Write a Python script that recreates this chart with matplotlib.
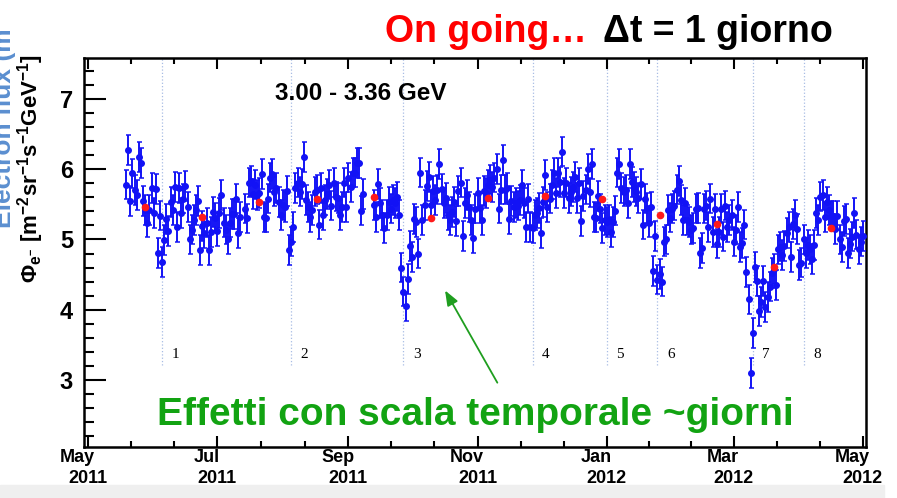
import numpy as np
import matplotlib.pyplot as plt
import matplotlib.dates as mdates
from matplotlib.patches import Rectangle
from matplotlib.transforms import blended_transform_factory

plt.rcParams['font.family'] = ['Liberation Sans', 'DejaVu Sans']
plt.rcParams['mathtext.fontset'] = 'custom'
plt.rcParams['mathtext.rm'] = 'Liberation Sans:bold'
plt.rcParams['mathtext.it'] = 'Liberation Sans:bold'
plt.rcParams['mathtext.bf'] = 'Liberation Sans:bold'

# daily electron flux (3.00 - 3.36 GeV) in six chunks
chunk_start = ['2011-05-19', '2011-07-14', '2011-09-13',
               '2011-11-10', '2012-01-09', '2012-03-03']
flux_1 = [5.78, 6.27, 5.55, 5.94, 5.70, 5.63, 6.17, 6.09, 5.55, 5.42, 5.24, 5.42, 5.73, 5.38,
          5.72, 4.81, 5.34, 4.68, 4.99, 5.29, 5.12, 5.53, 5.42, 5.75, 5.18, 5.73, 5.38, 5.58,
          5.76, 5.46, 5.00, 5.14, 5.28, 5.42, 5.55, 4.85, 5.19, 5.09, 5.24, 4.85, 5.11, 5.39,
          5.31, 5.12, 5.38, 5.63, 5.24, 5.14, 5.00, 5.24, 5.36, 5.36, 5.58, 5.09, 5.32]
flux_2 = [5.44, 5.30, 5.81, 5.83, 5.65, 5.78, 5.63, 5.66, 5.93, 5.32, 5.31, 5.58, 5.88, 5.93,
          5.68, 5.73, 5.53, 5.35, 5.49, 5.46, 5.69, 4.85, 4.97, 5.18, 5.73, 5.81, 5.68, 5.79,
          6.17, 5.56, 5.46, 5.32, 5.42, 5.68, 5.71, 5.21, 5.73, 5.35, 5.56, 5.65, 5.78, 5.48,
          5.81, 5.61, 5.59, 5.35, 5.46, 5.81, 5.46, 5.88, 5.75, 5.95, 5.95, 6.09, 6.09, 5.41,
          5.65]
flux_3 = [5.49, 5.32, 5.79, 5.52, 5.35, 5.16, 5.35, 5.53, 5.44, 5.56, 5.52, 5.61, 5.35, 4.60,
          4.26, 4.05, 4.44, 4.91, 4.75, 5.29, 5.25, 4.80, 5.95, 5.28, 5.49, 5.76, 5.89, 5.49,
          5.69, 5.56, 5.71, 6.07, 5.72, 5.52, 5.59, 5.35, 5.28, 5.39, 5.53, 5.26, 5.69, 5.81,
          5.05, 5.52, 5.63, 5.46, 5.28, 5.02, 5.44, 5.66, 5.45, 5.28, 5.69, 5.66, 5.78, 5.85,
          5.75, 5.88]
flux_4 = [6.00, 5.44, 5.71, 6.13, 5.71, 5.73, 5.29, 5.55, 5.46, 5.52, 5.48, 5.56, 5.78, 5.52,
          5.18, 5.58, 5.18, 5.16, 5.35, 5.38, 5.45, 5.09, 5.53, 5.92, 5.46, 5.58, 5.78, 5.95,
          5.66, 5.95, 5.82, 6.25, 5.66, 5.81, 5.59, 5.68, 5.75, 5.89, 5.59, 5.81, 5.26, 5.62,
          5.71, 6.00, 5.67, 6.07, 5.32, 5.31, 5.62, 5.44, 5.16, 5.28, 5.25, 5.28, 5.11, 5.25,
          5.41, 5.95, 6.07, 5.73]
flux_5 = [5.68, 5.71, 5.52, 6.07, 5.82, 5.75, 5.68, 5.59, 5.79, 5.21, 5.58, 5.45, 5.24, 5.46,
          4.55, 5.05, 4.43, 4.51, 4.40, 4.97, 5.00, 5.42, 5.31, 5.44, 5.48, 5.71, 5.83, 5.56,
          5.28, 5.52, 5.28, 5.25, 5.14, 5.16, 5.44, 5.45, 4.81, 4.88, 5.44, 5.48, 5.18, 5.58,
          5.11, 5.44, 4.94, 5.11, 5.44, 5.04, 5.48, 5.18, 5.28, 5.35, 4.97, 5.14]
flux_6 = [5.46, 4.89, 4.95, 5.21, 4.54, 4.15, 3.10, 3.67, 4.61, 4.41, 3.98, 4.11, 4.41, 4.04,
          4.18, 4.33, 4.52, 4.58, 4.35, 4.86, 4.90, 4.78, 4.91, 5.09, 5.18, 4.75, 5.22, 5.35,
          5.15, 4.64, 4.67, 5.00, 4.81, 4.92, 4.86, 4.72, 4.92, 5.38, 5.28, 5.61, 5.63, 5.32,
          5.53, 5.42, 5.34, 5.34, 5.15, 5.34, 5.00, 4.89, 5.26, 5.29, 4.81, 4.94, 5.04, 5.38,
          5.07, 4.86, 4.97, 5.05]
flux_err = 0.21

# Bartels rotation averages (red)
bartels_day = ['2011-05-28', '2011-06-24', '2011-07-21', '2011-08-17', '2011-09-13',
               '2011-10-10', '2011-11-06', '2011-12-03', '2011-12-30', '2012-01-26',
               '2012-02-22', '2012-03-20', '2012-04-16']
bartels_flux = [5.46, 5.32, 5.53, 5.58, 5.61, 5.31, 5.59, 5.62, 5.58, 5.35, 5.22, 4.61, 5.17]

# marked events
event_day = ['2011-06-05', '2011-08-05', '2011-09-27', '2011-11-27',
             '2012-01-01', '2012-01-25', '2012-03-10', '2012-04-03']
event_label = ['1', '2', '3', '4', '5', '6', '7', '8']

month_ticks = ['2011-05-01', '2011-07-01', '2011-09-01', '2011-11-01',
               '2012-01-01', '2012-03-01', '2012-05-01']
month_name = ['May', 'Jul', 'Sep', 'Nov', 'Jan', 'Mar', 'May']
year_name = ['2011', '2011', '2011', '2011', '2012', '2012', '2012']

days = []
flux = []
for start, seg in zip(chunk_start, [flux_1, flux_2, flux_3, flux_4, flux_5, flux_6]):
    days.append(np.datetime64(start) + np.arange(len(seg)))
    flux.extend(seg)
days = mdates.date2num(np.concatenate(days))

fig = plt.figure(figsize=(8.97, 4.98), dpi=100)
ax = fig.add_axes([84 / 897, 51 / 498, 782 / 897, 389 / 498])

ax.errorbar(days, flux, yerr=flux_err, fmt='o', color='#1212f5', ms=4,
            elinewidth=1.4, capsize=1.8, capthick=1.1, zorder=3)
ax.plot(mdates.date2num(np.array(bartels_day, dtype='datetime64[D]')), bartels_flux,
        'o', color='#ff1a1a', ms=4.5, zorder=5)

ev = mdates.date2num(np.array(event_day, dtype='datetime64[D]'))
ax.vlines(ev, 3.22, 7.6, colors='#a8bce4', linestyles=':', lw=0.9, zorder=1)
for x, lab in zip(ev, event_label):
    ax.text(x + 4.5, 3.36, lab, fontsize=11, family='Liberation Serif', ha='left', va='center')

t0 = mdates.date2num(np.datetime64('2011-05-01'))
t1 = mdates.date2num(np.datetime64('2012-05-01'))
ax.set_xlim(t0 - 1.9, t1 + 1.5)
ax.set_ylim(2.05, 7.58)

major = mdates.date2num(np.array(month_ticks, dtype='datetime64[D]'))
minor = []
for a, b in zip(major[:-1], major[1:]):
    minor += [a + (b - a) / 3, a + 2 * (b - a) / 3]
ax.set_xticks(major)
ax.set_xticks(minor, minor=True)
ax.set_xticklabels(year_name, fontsize=13, fontweight='bold')
trans = blended_transform_factory(ax.transData, ax.transAxes)
for x, m in zip(major, month_name):
    ax.text(x - 5, -0.004, m, transform=trans, ha='center', va='top',
            fontsize=13, fontweight='bold')

ax.set_yticks([3, 4, 5, 6, 7])
ax.set_yticks(np.arange(2.2, 7.6, 0.2), minor=True)
ax.set_yticklabels(['3', '4', '5', '6', '7'], fontsize=17, fontweight='bold')

ax.tick_params(axis='x', which='both', direction='in', top=True, bottom=True, width=1.5, pad=16.5)
ax.tick_params(axis='x', which='major', length=8)
ax.tick_params(axis='x', which='minor', length=4.5)
ax.tick_params(axis='y', which='both', direction='in', left=True, right=False, width=1.5, pad=8)
ax.tick_params(axis='y', which='major', length=16)
ax.tick_params(axis='y', which='minor', length=7.5)
for s in ax.spines.values():
    s.set_linewidth(1.8)

ax.set_ylabel(r'$\Phi_{e^{-}}$ [m$^{-2}$sr$^{-1}$s$^{-1}$GeV$^{-1}$]', fontsize=16, fontweight='bold')
ax.yaxis.set_label_coords(-0.049, 0.715)

# arrow pointing at the October dip
ax.annotate('', xy=(mdates.date2num(np.datetime64('2011-10-16')), 4.31),
            xytext=(mdates.date2num(np.datetime64('2011-11-11')), 2.93),
            arrowprops=dict(arrowstyle='-|>,head_length=0.9,head_width=0.35',
                            color='#1f9e1f', lw=1.3))

fig.text(157 / 897, 1 - 425 / 498, 'Effetti con scala temporale ~giorni', color='#12a312',
         fontsize=28, fontweight='bold', va='baseline')
fig.text(275 / 897, 1 - 100 / 498, '3.00 - 3.36 GeV', fontsize=17.5, fontweight='bold',
         va='baseline')
fig.text(385 / 897, 1 - 42 / 498, 'On going\u2026', color='#ff0000', fontsize=27,
         fontweight='bold', va='baseline')
fig.text(603 / 897, 1 - 42 / 498, '\u0394t = 1 giorno', color='black', fontsize=27,
         fontweight='bold', va='baseline')

# bits of the slide around the plot
fig.text(16 / 897, 1 - 128 / 498, 'Electron flux (m', rotation=90, ha='right', va='center',
         fontsize=19, fontweight='bold', color='#5b8fd0')
fig.add_artist(Rectangle((0, 0), 0.985, 13 / 498, transform=fig.transFigure,
                         color='#efefef', zorder=0))

plt.savefig('out.png', dpi=100)
